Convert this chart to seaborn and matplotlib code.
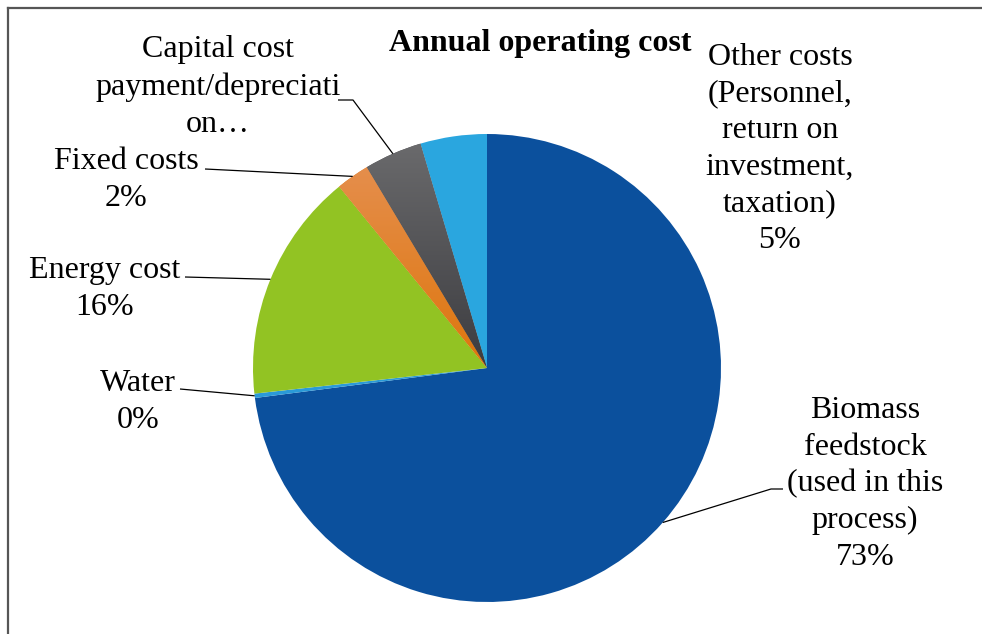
import numpy as np
import matplotlib
matplotlib.use("Agg")
import matplotlib.pyplot as plt
import seaborn as sns
from matplotlib.colors import LinearSegmentedColormap

# Annual operating cost breakdown (share of total)
categories = [
    "Biomass feedstock (used in this process)",
    "Water",
    "Energy cost",
    "Fixed costs",
    "Capital cost payment/depreciation",
    "Other costs (Personnel, return on investment, taxation)",
]
values = [73.1, 0.3, 15.9, 2.3, 4.0, 4.6]
label_texts = [
    "Biomass\nfeedstock\n(used in this\nprocess)",
    "Water",
    "Energy cost",
    "Fixed costs",
    "Capital cost\npayment/depreciati\non…",
    "Other costs\n(Personnel,\nreturn on\ninvestment,\ntaxation)",
]
show_pct = [True, True, True, True, False, True]
colors = ["#0B509D", "#2A9AD8", "#92C323", "#E07E22", "#505053", "#2AA6DF"]
gradients = {3: ("#E58E4C", "#DE760C"), 4: ("#6A6A6C", "#3C3C40")}

W, H = 982, 634
sns.set_theme(style="white")
plt.rcParams["font.family"] = ["Liberation Serif", "DejaVu Serif"]

fig = plt.figure(figsize=(W / 100, H / 100), dpi=100)
ax = fig.add_axes([0, 0, 1, 1])

cx, cy, r = 487, 368, 234
wedges, _ = ax.pie(values, colors=colors, startangle=-90, counterclock=True,
                   center=(cx, cy), radius=r, frame=True,
                   wedgeprops=dict(linewidth=0))

# vertical shading on the small dark wedges
for i, (c_top, c_bot) in gradients.items():
    w = wedges[i]
    verts = w.get_path().vertices
    x0, y0 = verts.min(axis=0)
    x1, y1 = verts.max(axis=0)
    cmap = LinearSegmentedColormap.from_list(f"g{i}", [c_top, c_bot])
    im = ax.imshow(np.linspace(0, 1, 256).reshape(-1, 1), cmap=cmap,
                   extent=(x0, x1, y1, y0), origin="upper", aspect="auto",
                   zorder=w.get_zorder() + 0.1, interpolation="bilinear")
    im.set_clip_path(w)

total = sum(values)
fs = 23


def edge_point(i):
    w = wedges[i]
    mid = np.deg2rad((w.theta1 + w.theta2) / 2)
    return cx + r * np.cos(mid), cy + r * np.sin(mid)


def label(i, x, y):
    txt = label_texts[i]
    if show_pct[i]:
        txt += "\n" + f"{values[i] / total * 100:.0f}%"
    ax.text(x, y, txt, ha="center", va="center", fontsize=fs,
            linespacing=1.35, color="black")


# label positions and leader lines
label(0, 865, 484)
label(1, 138, 402)
label(2, 105, 289)
label(3, 126, 180)
label(4, 218, 87)
label(5, 780, 149)

lk = dict(color="black", lw=0.9, solid_capstyle="butt", zorder=5)
ex, ey = edge_point(0)
ax.plot([ex, 771, 783], [ey, 489, 489], **lk)
ex, ey = edge_point(1)
ax.plot([180, ex], [389, ey], **lk)
ex, ey = edge_point(2)
ax.plot([185, ex], [277, ey], **lk)
ex, ey = edge_point(3)
ax.plot([205, ex], [169, ey], **lk)
ex, ey = edge_point(4)
ax.plot([338, 353, ex], [100, 100, ey], **lk)

ax.text(540, 43, "Annual operating cost", ha="center", va="center",
        fontsize=fs, fontweight="bold", color="black")

# chart area border (top and left edges visible)
bk = dict(color="#565656", lw=1.6, solid_capstyle="projecting", zorder=6)
ax.plot([8, 8], [H + 5, 8], **bk)
ax.plot([8, W + 5], [8, 8], **bk)

ax.set_xlim(0, W)
ax.set_ylim(H, 0)
ax.set_aspect("equal", adjustable="box")
ax.set_xticks([])
ax.set_yticks([])
for s in ax.spines.values():
    s.set_visible(False)
ax.set_facecolor("white")
fig.patch.set_facecolor("white")

fig.savefig("out.png", dpi=100, facecolor="white")
